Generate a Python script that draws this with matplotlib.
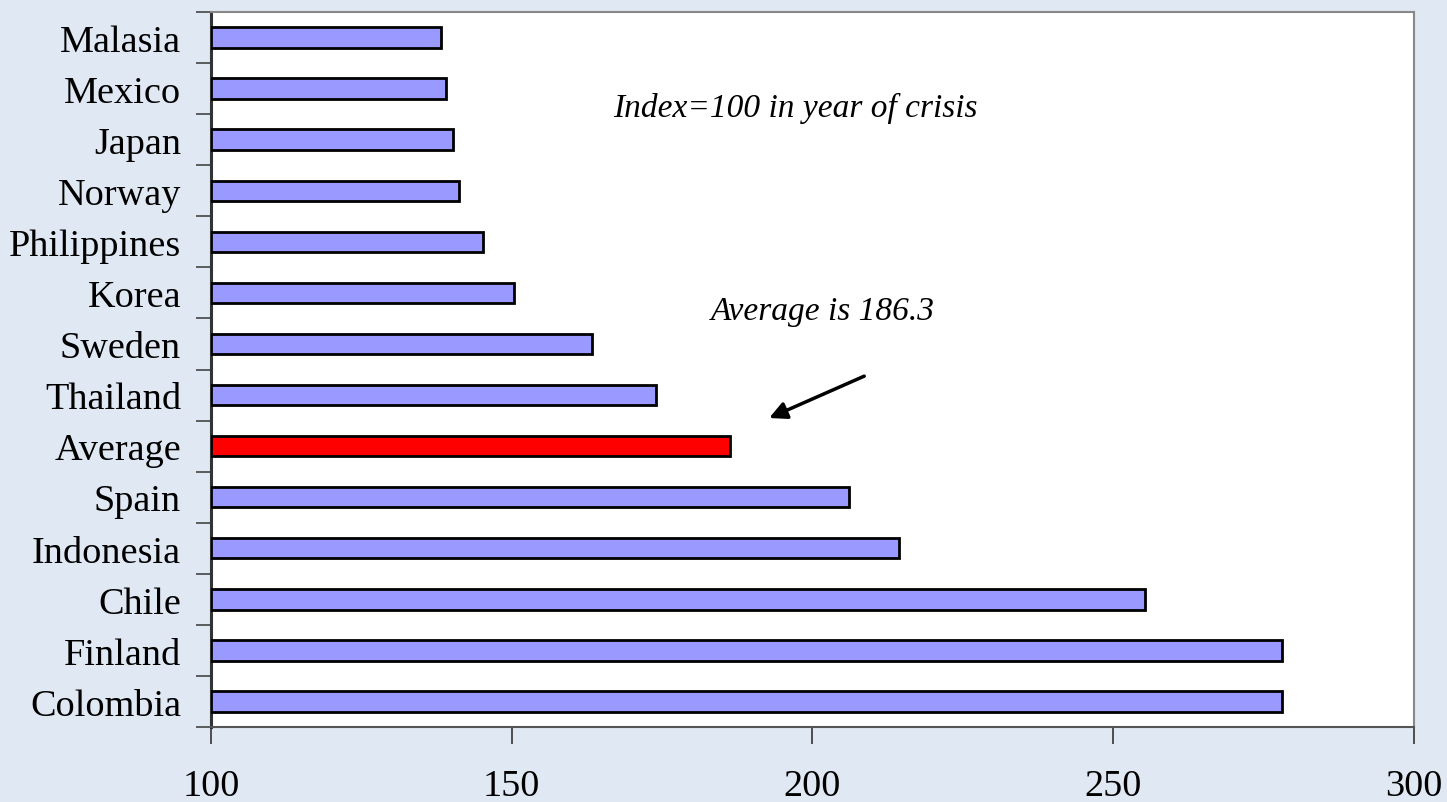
import matplotlib.pyplot as plt

countries = ["Colombia", "Finland", "Chile", "Indonesia", "Spain", "Average",
             "Thailand", "Sweden", "Korea", "Philippines", "Norway", "Japan",
             "Mexico", "Malasia"]
values = [278.1, 278.1, 255.2, 214.4, 206.0, 186.3,
          174.0, 163.3, 150.4, 145.3, 141.2, 140.2,
          139.0, 138.2]
base = 100
avg_value = 186.3

plt.rcParams['font.family'] = ['Liberation Serif', 'DejaVu Serif']

fig = plt.figure(figsize=(14.47, 8.03), dpi=100, facecolor='#dfe8f3')
ax = fig.add_axes([0.1458, 0.0934, 0.9772 - 0.1458, 0.9838 - 0.0934])
ax.set_facecolor('white')

colors = ['#ff0000' if c == "Average" else '#9999ff' for c in countries]
widths = [v - base for v in values]
ypos = list(range(len(countries)))
ax.barh(ypos, widths, left=base, height=0.4, color=colors,
        edgecolor='black', linewidth=2.0, zorder=3)

ax.set_xlim(100, 300)
ax.set_ylim(-0.5, len(countries) - 0.5)

# category labels sit between the tick marks
ax.set_yticks(ypos)
ax.set_yticklabels(countries, fontsize=27.5)
ax.tick_params(axis='y', which='major', length=0, pad=21.5)
ax.set_yticks([i + 0.5 for i in range(-1, len(countries))], minor=True)
ax.tick_params(axis='y', which='minor', length=11, width=1.2, color='#444444', direction='out')

ax.set_xticks([100, 150, 200, 250, 300])
ax.tick_params(axis='x', length=12, width=1.2, color='#333333', direction='out',
               labelsize=27.5, pad=18)

for side in ['top', 'right']:
    ax.spines[side].set_color('#888888')
    ax.spines[side].set_linewidth(1.5)
ax.spines['left'].set_color('#333333')
ax.spines['left'].set_linewidth(2.2)
ax.spines['bottom'].set_color('#555555')
ax.spines['bottom'].set_linewidth(1.5)

ax.text(197.1, 11.64, "Index=100 in year of crisis", style='italic',
        fontsize=24, ha='center', va='center')
ax.text(201.7, 7.65, "Average is %.1f" % avg_value, style='italic',
        fontsize=24, ha='center', va='center')
ax.annotate("", xy=(192.8, 5.55), xytext=(208.6, 6.37),
            arrowprops=dict(arrowstyle='-|>', color='black', lw=2.5,
                            mutation_scale=26, shrinkA=0, shrinkB=0))

plt.savefig("out.png", dpi=100, facecolor=fig.get_facecolor())
